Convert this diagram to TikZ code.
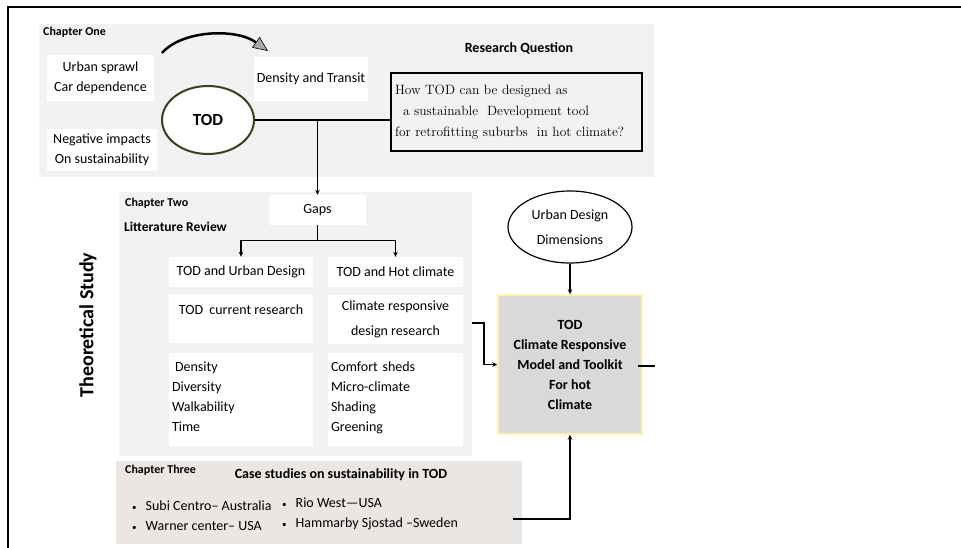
\documentclass[tikz,border=0pt]{standalone}
\usepackage{fontspec}
\setsansfont{Carlito}
\usetikzlibrary{arrows.meta, shapes.geometric}
\definecolor{panelgray}{HTML}{F2F2F2}
\definecolor{casegray}{HTML}{EAE6E4}
\definecolor{modelgray}{HTML}{D9D9D9}
\definecolor{modelrim}{HTML}{FFF3B0}
\definecolor{todrim}{HTML}{3C3C1E}
\newcommand{\smallbullet}{{\fontsize{9}{9}\selectfont\textbullet}\hspace{9pt}}

\begin{document}
\begin{tikzpicture}[
    x=1pt, y=-1pt,
    txt/.style={font=\sffamily\fontsize{14}{20}\selectfont},
    whitebox/.style={txt, fill=white, inner sep=0pt, align=center},
    listbox/.style={txt, fill=white, inner xsep=3pt, inner ysep=0pt, align=left},
    chaptag/.style={font=\sffamily\bfseries\fontsize{12}{14}\selectfont, anchor=west, inner sep=0pt},
    headtag/.style={font=\sffamily\bfseries\fontsize{14}{20}\selectfont, inner sep=0pt},
    link/.style={line width=1.2pt},
    arrowto/.style={-{Stealth[length=5pt, width=4.5pt]}}
]
  \useasboundingbox (0,0) rectangle (961,548);

  % Outer frame, top and left edges only
  \draw[line width=2.2pt] (8,548) -- (8,7) -- (961,7);

  % Chapter panels
  \fill[panelgray] (39,24) rectangle (654,177);
  \fill[panelgray] (119,192) rectangle (472,456);
  \fill[casegray] (116,461) rectangle (522,544);

  % Chapter one
  \node[chaptag] (chone) at (43,32) {Chapter One};
  \node[whitebox, minimum width=107pt, minimum height=46pt] (sprawl) at (100.5,78) {Urban sprawl\\Car dependence};
  \node[whitebox, minimum width=114pt, minimum height=44pt] (transit) at (311,79) {Density and Transit};
  \node[ellipse, draw=todrim, line width=2pt, fill=white, minimum width=92pt, minimum height=68pt,
        font=\sffamily\bfseries\fontsize{17}{20}\selectfont] (tod) at (208,120) {TOD};
  \node[whitebox, minimum width=110pt, minimum height=42pt] (impacts) at (102,150) {Negative impacts\\On sustainability};
  \node[headtag] (rqtitle) at (519,48) {Research Question};
  \node[draw, line width=1.8pt, fill=panelgray, text width=243pt, inner xsep=4pt, minimum height=78pt,
        align=left, font=\rmfamily\fontsize{13.5}{21}\selectfont] (question) at (516.5,112)
       {How TOD can be designed as\\\hspace*{8pt}a sustainable\ \ Development tool\\for retrofitting suburbs\ \ in hot climate?};

  % Curved arrow from the problems towards density
  \draw[line width=2.5pt, -{Triangle[width=13pt, length=15pt, fill=gray!70, line width=0.6pt]}]
    (162,53) .. controls (182,30) and (236,28) .. (268,51);

  % Chapter two
  \node[chaptag] (chtwo) at (125,203) {Chapter Two};
  \node[headtag, anchor=west, font=\sffamily\bfseries\fontsize{13.5}{20}\selectfont] (litrev) at (124,227) {Litterature Review};
  \node[whitebox, minimum width=97pt, minimum height=30pt] (gaps) at (317.5,210) {Gaps};
  \node[whitebox, minimum width=144pt, minimum height=30pt] (urbandesign) at (241,272) {TOD and Urban Design};
  \node[whitebox, minimum width=135pt, minimum height=30pt] (hot) at (395.5,272) {TOD and Hot climate};
  \node[whitebox, minimum width=144pt, minimum height=49pt] (current) at (241,318.5) {TOD\ \ current research\\[-2pt]\mbox{}};
  \node[whitebox, minimum width=135pt, minimum height=49pt, font=\sffamily\fontsize{14}{25}\selectfont] (climresp) at (395.5,319.5) {Climate responsive\\design research};
  \node[listbox, text width=138pt, minimum height=93pt] (leftlist) at (241,399.5) {\hspace*{3pt}Density\\Diversity\\Walkability\\Time\\[-15pt]\mbox{}};
  \node[listbox, text width=129pt, minimum height=93pt] (rightlist) at (395.5,399.5) {Comfort sheds\\Micro-climate\\Shading\\Greening\\[-15pt]\mbox{}};

  % Side title
  \node[rotate=90, font=\sffamily\bfseries\fontsize{20}{24}\selectfont] (theory) at (88,325) {Theoretical Study};

  % Model and its input
  \node[ellipse, draw, line width=1.2pt, fill=white, minimum width=124pt, minimum height=72pt, align=center,
        font=\sffamily\fontsize{14}{25}\selectfont] (udd) at (570,227) {Urban Design\\Dimensions};
  \node[draw=modelrim, line width=1.5pt, fill=modelgray, minimum width=144pt, minimum height=139pt, align=center,
        font=\sffamily\bfseries\fontsize{14}{20}\selectfont] (model) at (570,364.5)
       {TOD\\Climate Responsive\\Model and Toolkit\\For hot\\Climate};

  % Chapter three
  \node[chaptag] (chthree) at (125,470) {Chapter Three};
  \node[headtag] (cases) at (341,475) {Case studies on sustainability in TOD};
  \node[txt, anchor=west, align=left, inner sep=0pt] (colone) at (132,516)
       {\smallbullet Subi Centro– Australia\\\smallbullet Warner center– USA};
  \node[txt, anchor=west, align=left, inner sep=0pt] (coltwo) at (282,514)
       {\smallbullet Rio West—USA\\\smallbullet Hammarby Sjostad –Sweden};

  % Connectors
  \coordinate (crout) at (472,323);
  \coordinate (caseout) at (513,519);
  \draw[link] (tod.east) -- (tod.east -| question.west);
  \draw[link, arrowto] (tod.east -| gaps.north) -- (gaps.north);
  \draw[link] (gaps.south) -- ++(0,15) coordinate (split);
  \draw[link, arrowto] (split) -| (urbandesign.north);
  \draw[link, arrowto] (split) -| (hot.north);
  \draw[link, arrowto] (udd.south) -- (model.north);
  \draw[link, arrowto] (crout) -- ++(12,0) |- (model.west);
  \draw[link, arrowto] (caseout) -| (model.south);
  \draw[link] (model.east) ++(-5,1.5) -- ++(17,0);
\end{tikzpicture}
\end{document}
